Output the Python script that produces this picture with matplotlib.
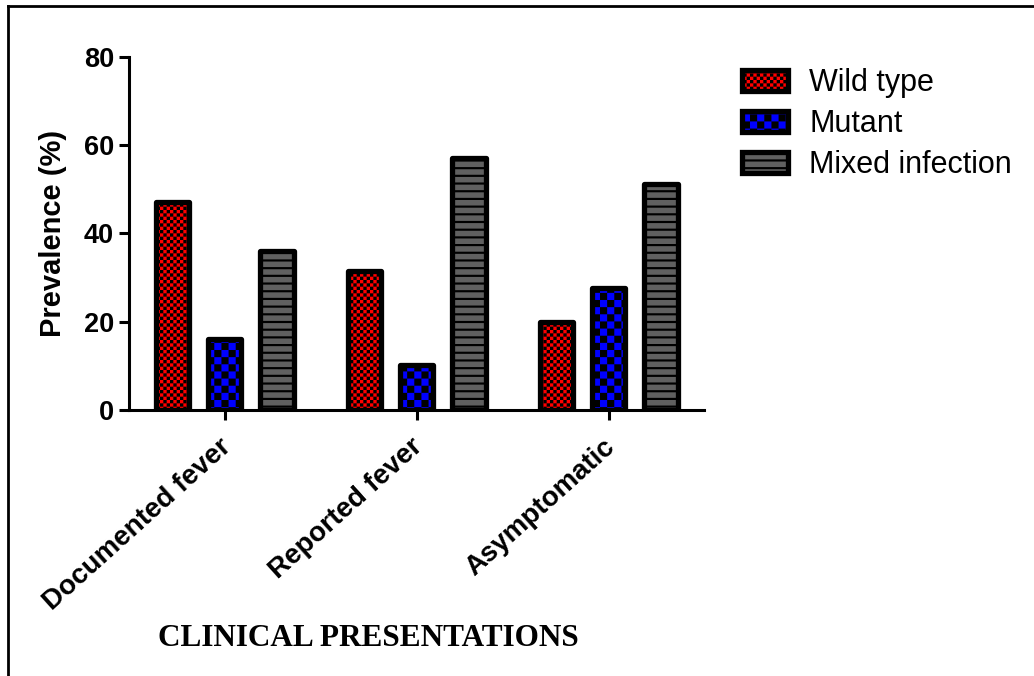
"""Prevalence of wild type, mutant and mixed infections by clinical presentation.

Grouped bar chart with Prism-style checker / stripe fills.
"""

# ---------------------------------------------------------------------------
# Section 1: Imports
# ---------------------------------------------------------------------------
import warnings

import matplotlib

matplotlib.use("Agg")

import matplotlib.hatch as mhatch  # noqa: E402
import matplotlib.pyplot as plt  # noqa: E402
import matplotlib.transforms as mtransforms  # noqa: E402
import numpy as np  # noqa: E402
from matplotlib.lines import Line2D  # noqa: E402
from matplotlib.path import Path  # noqa: E402

warnings.filterwarnings("ignore", category=matplotlib.MatplotlibDeprecationWarning)


# ---------------------------------------------------------------------------
# Section 2: Data
# ---------------------------------------------------------------------------
categories = ["Documented fever", "Reported fever", "Asymptomatic"]
wild_type = [47.2, 31.6, 20.0]
mutant = [16.0, 10.2, 27.6]
mixed_infection = [36.0, 57.0, 51.2]

series_labels = ["Wild type", "Mutant", "Mixed infection"]
y_ticks = [0, 20, 40, 60, 80]

X_LABEL = "CLINICAL PRESENTATIONS"
Y_LABEL = "Prevalence (%)"

FACE_COLORS = ["#ff0000", "#0000ff", "#606060"]
HATCHES = ["c" * 15, "c" * 7, "z" * 13]  # fine checker, coarse checker, stripes

BAR_WIDTH = 0.175
BAR_OFFSET = 0.272


# ---------------------------------------------------------------------------
# Section 3: Custom hatch fills (filled squares / filled stripes)
# ---------------------------------------------------------------------------
def _square(x0, y0, w, h):
    return [(x0, y0), (x0 + w, y0), (x0 + w, y0 + h), (x0, y0 + h), (x0, y0)]


_SQUARE_CODES = [Path.MOVETO, Path.LINETO, Path.LINETO, Path.LINETO, Path.CLOSEPOLY]


class CheckerHatch(mhatch.HatchPatternBase):
    """Checkerboard of filled squares; each 'c' adds two cells per tile."""

    def __init__(self, hatch, density):
        self.num_cells = 2 * hatch.count("c")
        self.num_vertices = (self.num_cells ** 2 // 2) * 5

    def set_vertices_and_codes(self, vertices, codes):
        n = self.num_cells
        s = 1.0 / n
        k = 0
        for i in range(n):
            for j in range(n):
                if (i + j) % 2:
                    continue
                vertices[k:k + 5] = _square(j * s, i * s, s, s)
                codes[k:k + 5] = _SQUARE_CODES
                k += 5


class StripeHatch(mhatch.HatchPatternBase):
    """Filled horizontal stripes; each 'z' adds one stripe per tile."""

    thickness = 0.28

    def __init__(self, hatch, density):
        self.num_stripes = hatch.count("z")
        self.num_vertices = self.num_stripes * 5

    def set_vertices_and_codes(self, vertices, codes):
        n = self.num_stripes
        for i in range(n):
            vertices[i * 5:i * 5 + 5] = _square(0.0, i / n, 1.0, self.thickness / n)
            codes[i * 5:i * 5 + 5] = _SQUARE_CODES


mhatch._hatch_types.extend([CheckerHatch, StripeHatch])


# ---------------------------------------------------------------------------
# Section 4: Plot
# ---------------------------------------------------------------------------
def build_chart(output_path: str) -> None:
    plt.rcParams["font.family"] = ["Liberation Sans", "DejaVu Sans"]
    plt.rcParams["hatch.linewidth"] = 0.0

    fig = plt.figure(figsize=(10.34, 6.76), dpi=100)
    ax = fig.add_axes([0.1245, 0.3935, 0.5568, 0.5222])

    x = np.arange(len(categories))
    all_series = [wild_type, mutant, mixed_infection]
    for idx, values in enumerate(all_series):
        ax.bar(
            x + (idx - 1) * BAR_OFFSET,
            values,
            width=BAR_WIDTH,
            color=FACE_COLORS[idx],
            edgecolor="black",
            linewidth=3.8,
            hatch=HATCHES[idx],
            joinstyle="round",
            label=series_labels[idx],
            zorder=3,
        )

    ax.set_xlim(-0.5, len(categories) - 0.5)
    ax.set_ylim(y_ticks[0], y_ticks[-1])
    ax.set_yticks(y_ticks)
    ax.set_xticks(x)
    ax.set_xticklabels(
        categories,
        rotation=42,
        ha="right",
        va="top",
        rotation_mode="anchor",
        fontsize=20,
        fontweight="bold",
    )
    ax.tick_params(axis="y", labelsize=19.5, width=2.2, length=7.5, pad=3)
    ax.tick_params(axis="x", width=2.2, length=7, pad=10)
    shift = mtransforms.ScaledTranslation(-6 / 100, 0, fig.dpi_scale_trans)
    for label in ax.get_xticklabels():
        label.set_transform(label.get_transform() + shift)
    for label in ax.get_yticklabels():
        label.set_fontweight("bold")

    for side in ["top", "right"]:
        ax.spines[side].set_visible(False)
    for side in ["left", "bottom"]:
        ax.spines[side].set_linewidth(2.2)

    ax.set_ylabel(Y_LABEL, fontsize=21, fontweight="bold", labelpad=12)

    fig.text(
        0.356,
        0.055,
        X_LABEL,
        fontsize=22.5,
        fontweight="bold",
        family=["Liberation Serif", "DejaVu Serif"],
        ha="center",
        va="center",
    )

    ax.legend(
        loc="upper left",
        bbox_to_anchor=(0.7176, 0.899),
        bbox_transform=fig.transFigure,
        frameon=False,
        fontsize=22,
        handlelength=1.5,
        handleheight=0.72,
        handletextpad=0.7,
        labelspacing=0.36,
        borderpad=0,
        borderaxespad=0,
    )

    # page frame (left and top edges visible, as in the source figure)
    fig.add_artist(Line2D([8 / 1034, 8 / 1034], [0, 1 - 5.5 / 676],
                          color="black", linewidth=2, transform=fig.transFigure))
    fig.add_artist(Line2D([8 / 1034, 1], [1 - 5.5 / 676, 1 - 5.5 / 676],
                          color="black", linewidth=2, transform=fig.transFigure))

    fig.savefig(output_path, dpi=100)
    plt.close(fig)


# ---------------------------------------------------------------------------
# Section 5: Main Execution
# ---------------------------------------------------------------------------
def main() -> None:
    build_chart("out.png")


if __name__ == "__main__":
    main()
